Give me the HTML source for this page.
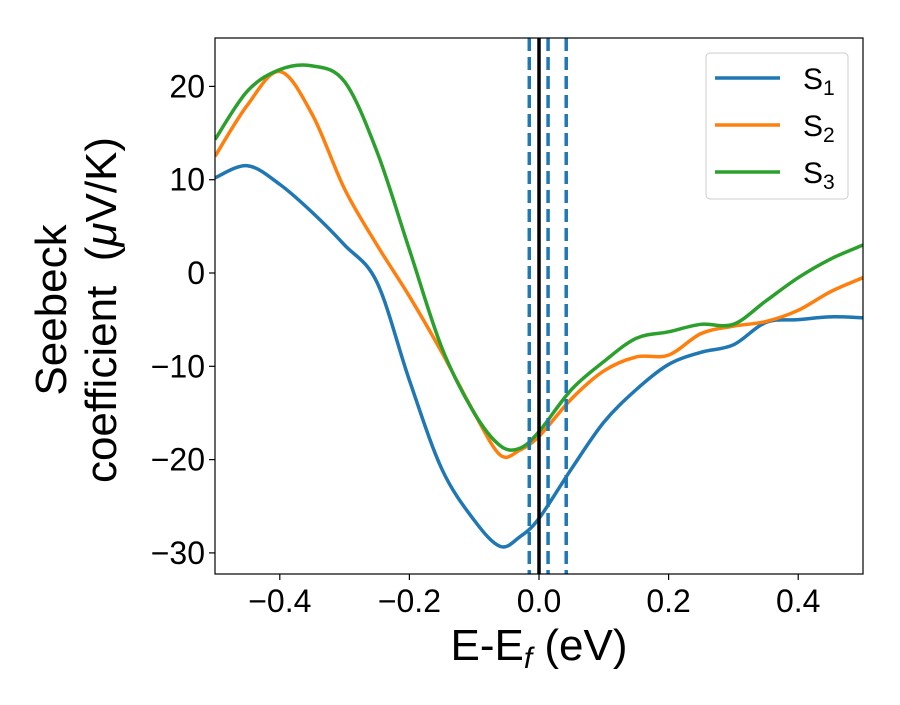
<!DOCTYPE html>
<html><head><meta charset="utf-8"><style>
body{margin:0;background:#fff}
svg text{font-family:"Liberation Sans","DejaVu Sans",sans-serif;fill:#000;white-space:pre}
</style></head><body>
<svg id="chart" width="900" height="700" xmlns="http://www.w3.org/2000/svg">
<g id="plot"></g>
</svg>
<script>
const xs = [-0.5,-0.45,-0.4,-0.35,-0.3,-0.25,-0.2,-0.15,-0.1,-0.06,-0.03,0,0.05,0.1,0.15,0.2,0.25,0.3,0.35,0.4,0.45,0.5];
const s1 = [10.2,11.5,9.5,6.5,3,-1,-11.5,-21,-26.5,-29.3,-28.3,-26.3,-21,-16,-12.5,-9.8,-8.5,-7.7,-5.3,-5,-4.7,-4.8];
const s2 = [12.5,18,21.6,17,9,3,-2.5,-8.5,-15,-19.5,-19,-17.5,-13.5,-10.5,-9,-8.8,-6.5,-5.7,-5.2,-4,-2,-0.5];
const s3 = [14.3,19.5,21.8,22.2,20.5,13,2.5,-8,-15,-18.5,-18.8,-17,-12.5,-9.5,-7,-6.3,-5.5,-5.5,-3,-0.5,1.5,3];
const seriesNames = ["S1","S2","S3"];
const colors = ["#1f77b4","#ff7f0e","#2ca02c"];
const xTicks = [-0.4,-0.2,0,0.2,0.4];
const xTickLabels = ["\u22120.4","\u22120.2","0.0","0.2","0.4"];
const yTicks = [20,10,0,-10,-20,-30];
const yTickLabels = ["20","10","0","\u221210","\u221220","\u221230"];
const dashedLines = [-0.015,0.014,0.042];
const fermi = 0;

const L=215,R=863,T=38,B=574;
const X=v=>539+(v)*648;
const Y=v=>273-v*9.33;
const NS="http://www.w3.org/2000/svg";
const g=document.getElementById('plot');
function mk(t,a){const e=document.createElementNS(NS,t);for(const k in a)e.setAttribute(k,a[k]);return e;}
const clip=mk('clipPath',{id:'cp'});clip.appendChild(mk('rect',{x:L,y:T,width:R-L,height:B-T}));g.appendChild(clip);
function smooth(pts){let d=`M${pts[0][0]},${pts[0][1]}`;for(let i=0;i<pts.length-1;i++){const p0=pts[Math.max(0,i-1)],p1=pts[i],p2=pts[i+1],p3=pts[Math.min(pts.length-1,i+2)];
const c1=[p1[0]+(p2[0]-p0[0])/6,p1[1]+(p2[1]-p0[1])/6],c2=[p2[0]-(p3[0]-p1[0])/6,p2[1]-(p3[1]-p1[1])/6];
d+=`C${c1[0]},${c1[1]} ${c2[0]},${c2[1]} ${p2[0]},${p2[1]}`;}return d;}
[s1,s2,s3].forEach((s,i)=>{const p=mk('path',{d:smooth(xs.map((x,j)=>[X(x),Y(s[j])])),fill:'none',stroke:colors[i],'stroke-width':3.5,'clip-path':'url(#cp)'});

g.appendChild(p);});
dashedLines.forEach(v=>{const l=mk('line',{x1:X(v),x2:X(v),y1:T,y2:B,stroke:'#1f77b4','stroke-width':3.5,'stroke-dasharray':'13,6'});

g.appendChild(l);});
const fl=mk('line',{x1:X(fermi),x2:X(fermi),y1:T,y2:B,stroke:'#000','stroke-width':3.5});

g.appendChild(fl);
const fr=mk('rect',{x:L,y:T,width:R-L,height:B-T,fill:'none',stroke:'#000','stroke-width':1.2});

g.appendChild(fr);
xTicks.forEach((v,i)=>{g.appendChild(mk('line',{x1:X(v),x2:X(v),y1:B,y2:B+6,stroke:'#000','stroke-width':1.2}));
const t=mk('text',{x:X(v),y:B+38,'text-anchor':'middle','font-size':32});t.textContent=xTickLabels[i];

g.appendChild(t);});
yTicks.forEach((v,i)=>{g.appendChild(mk('line',{x1:L-6,x2:L,y1:Y(v),y2:Y(v),stroke:'#000','stroke-width':1.2}));
const t=mk('text',{x:L-10,y:Y(v)+11,'text-anchor':'end','font-size':32});t.textContent=yTickLabels[i];

g.appendChild(t);});
const lg=mk('rect',{x:706,y:53,width:142,height:146,rx:4,fill:'#fff',stroke:'#ccc','stroke-width':1});

g.appendChild(lg);
seriesNames.forEach((n,i)=>{const y=78+i*47;
g.appendChild(mk('line',{x1:715,x2:780,y1:y,y2:y,stroke:colors[i],'stroke-width':3.5}));
const t=mk('text',{x:803,y:y+11,'font-size':30});t.innerHTML='S<tspan font-size="21" dy="6">'+n.slice(1)+'</tspan>';

g.appendChild(t);});
</script>
<svg style="position:absolute;left:0;top:0" width="900" height="700" xmlns="http://www.w3.org/2000/svg">
<text x="539" y="660" text-anchor="middle" font-size="44">E-E<tspan font-size="30" dy="8" font-style="italic">f</tspan><tspan dy="-8"> (eV)</tspan></text>
<g transform="translate(0,310) rotate(-90)">
<text x="0" y="66" text-anchor="middle" font-size="44">Seebeck</text>
<text x="0" y="116" text-anchor="middle" font-size="44">coefficient  (<tspan font-style="italic">μ</tspan>V/K)</text>
</g>
</svg>
</body></html>
